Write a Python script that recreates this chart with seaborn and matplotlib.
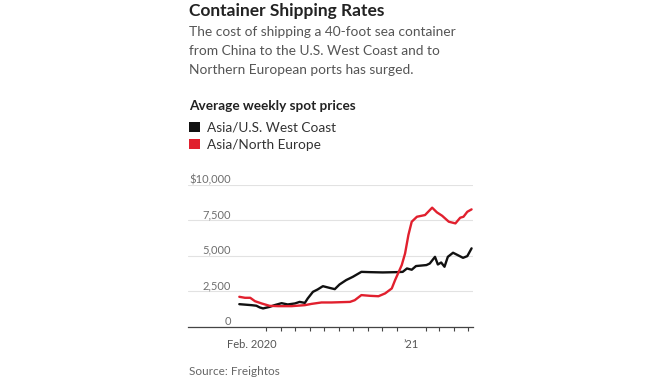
"""Container shipping rates: weekly spot prices, Asia to U.S. West Coast and North Europe."""

import matplotlib

matplotlib.use("Agg")
import matplotlib.pyplot as plt
import pandas as pd
import seaborn as sns
from matplotlib.patches import Patch

# Asia/U.S. West Coast, $ per 40-foot container
west_dates = [
    "2020-01-05", "2020-01-31", "2020-02-10", "2020-02-17", "2020-02-24",
    "2020-03-09", "2020-03-19", "2020-04-03", "2020-04-16", "2020-05-01",
    "2020-05-11", "2020-05-22", "2020-05-28", "2020-06-08", "2020-06-18",
    "2020-06-29", "2020-07-13", "2020-07-24", "2020-08-03", "2020-08-17",
    "2020-08-31", "2020-09-18", "2020-10-06", "2020-11-02", "2020-12-01",
    "2020-12-14", "2020-12-23", "2021-01-02", "2021-01-11", "2021-02-02",
    "2021-02-09", "2021-02-20", "2021-02-26", "2021-03-05", "2021-03-12",
    "2021-03-19", "2021-03-30", "2021-04-09", "2021-04-20", "2021-04-29",
    "2021-05-08",
]
west_prices = [
    1590, 1520, 1480, 1360, 1290,
    1400, 1520, 1660, 1570, 1640,
    1750, 1680, 1990, 2460, 2630,
    2860, 2740, 2650, 2980, 3290,
    3520, 3870, 3850, 3830, 3850,
    3870, 4110, 4020, 4280, 4350,
    4460, 4930, 4390, 4530, 4230,
    4930, 5220, 5050, 4860, 4980,
    5530,
]

# Asia/North Europe
europe_dates = [
    "2020-01-05", "2020-01-17", "2020-01-28", "2020-02-07", "2020-02-21",
    "2020-03-09", "2020-03-27", "2020-04-24", "2020-05-22", "2020-06-05",
    "2020-06-26", "2020-07-17", "2020-08-25", "2020-09-04", "2020-09-18",
    "2020-10-06", "2020-10-24", "2020-11-07", "2020-11-21", "2020-11-28",
    "2020-12-12", "2020-12-19", "2020-12-26", "2021-01-02", "2021-01-13",
    "2021-01-30", "2021-02-14", "2021-02-24", "2021-03-07", "2021-03-21",
    "2021-04-04", "2021-04-14", "2021-04-21", "2021-04-29", "2021-05-08",
]
europe_prices = [
    2110, 2040, 2040, 1800, 1640,
    1470, 1450, 1450, 1520, 1610,
    1710, 1710, 1750, 1870, 2230,
    2180, 2150, 2350, 2700, 3290,
    4350, 5170, 6470, 7410, 7760,
    7880, 8400, 8070, 7830, 7410,
    7290, 7690, 7760, 8110, 8280,
]

routes = ["Asia/U.S. West Coast", "Asia/North Europe"]
colors = ["#111111", "#e1202e"]
y_ticks = [0, 2500, 5000, 7500, 10000]
y_labels = ["0", "2,500", "5,000", "7,500", "$10,000"]
x_major = ["2020-02-01", "2021-01-01"]
x_labels = ["Feb. 2020", "\u201921"]

df = pd.concat([
    pd.DataFrame({"route": routes[0], "date": pd.to_datetime(west_dates), "price": west_prices}),
    pd.DataFrame({"route": routes[1], "date": pd.to_datetime(europe_dates), "price": europe_prices}),
])

sns.set_theme(style="white")
plt.rcParams["font.family"] = ["Lato", "DejaVu Sans"]

fig = plt.figure(figsize=(6.7, 3.8), dpi=100)
ax = fig.add_axes([188 / 670, 53.3 / 380, 285 / 670, 141.7 / 380])

sns.lineplot(
    data=df, x="date", y="price", hue="route",
    palette=dict(zip(routes, colors)), linewidth=1.7, legend=False, ax=ax,
)

ax.set_xlim(pd.Timestamp("2019-09-19"), pd.Timestamp("2021-05-11"))
ax.set_ylim(0, 10000)
ax.set_xlabel("")
ax.set_ylabel("")

# y axis: labels sit on top of the gridlines, inside the plot
ax.set_yticks(y_ticks)
ax.set_yticklabels(y_labels)
ax.tick_params(axis="y", length=0, pad=-31, labelsize=8, labelcolor="#6e6e6e")
plt.setp(ax.get_yticklabels(), va="bottom", ha="right")
ax.grid(axis="y", color="#e2e2e2", linewidth=0.8)
ax.set_axisbelow(True)

# monthly ticks only over the span of the data
ax.set_xticks(pd.to_datetime(x_major))
ax.set_xticklabels(x_labels)
ax.set_xticks(pd.date_range("2020-02-01", "2021-05-01", freq="MS"), minor=True)
ax.tick_params(axis="x", which="major", direction="out", length=5, width=0.8,
               color="#444444", labelsize=8, labelcolor="#555555", pad=4)
ax.tick_params(axis="x", which="minor", direction="out", length=3, width=0.8,
               color="#444444", bottom=True)

for side in ["top", "right", "left"]:
    ax.spines[side].set_visible(False)
ax.spines["bottom"].set_color("#444444")
ax.spines["bottom"].set_linewidth(0.9)

x0 = 189 / 670
fig.text(x0, (380 - 16) / 380, "Container Shipping Rates", fontsize=12.5,
         fontweight="bold", color="#222222", va="baseline")
subtitle = [
    "The cost of shipping a 40-foot sea container",
    "from China to the U.S. West Coast and to",
    "Northern European ports has surged.",
]
for i, line in enumerate(subtitle):
    fig.text(x0, (380 - 36 - 19 * i) / 380, line, fontsize=9.9,
             color="#555555", va="baseline")
fig.text(x0, (380 - 110) / 380, "Average weekly spot prices", fontsize=9.8,
         fontweight="bold", color="#222222", va="baseline")

handles = [Patch(facecolor=c, edgecolor="none", label=r) for r, c in zip(routes, colors)]
fig.legend(
    handles=handles, loc="upper left", bbox_to_anchor=(x0, (380 - 122) / 380),
    frameon=False, borderpad=0, borderaxespad=0, handlelength=0.8,
    handleheight=0.8, handletextpad=0.5, labelspacing=0.35, fontsize=9.8,
    labelcolor="#333333",
)

fig.text(x0, (380 - 375) / 380, "Source: Freightos", fontsize=8.5,
         color="#666666", va="baseline")

fig.savefig("out.png", dpi=100)
plt.close(fig)
